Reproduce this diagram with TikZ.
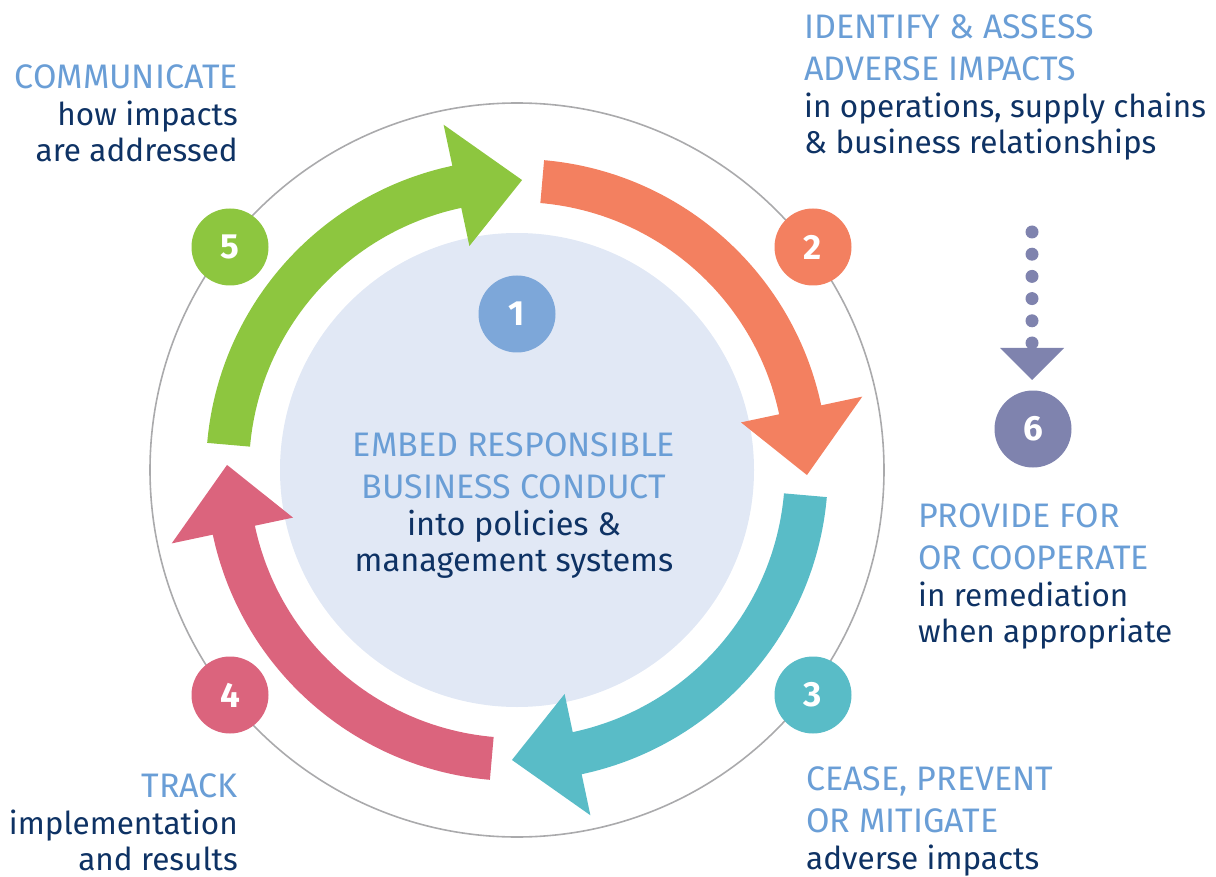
\documentclass[tikz,border=0pt]{standalone}
\usepackage{fontspec}
\setmainfont{Fira Sans}
\newfontfamily\headfont{Fira Sans}
\usetikzlibrary{calc}

\definecolor{headblue}{RGB}{106,158,214}
\definecolor{bodynavy}{RGB}{14,50,100}
\definecolor{corefill}{RGB}{225,232,245}
\definecolor{stepone}{RGB}{125,167,217}
\definecolor{stepgreen}{RGB}{141,198,63}
\definecolor{steporange}{RGB}{243,128,96}
\definecolor{stepteal}{RGB}{89,188,199}
\definecolor{steppink}{RGB}{219,100,125}
\definecolor{stepsix}{RGB}{127,131,174}
\definecolor{ringgrey}{RGB}{170,170,172}

\newcommand{\hd}[1]{{\headfont\fontsize{34}{42}\selectfont\color{headblue}#1}}
% thick curved arrow: colour, tail angle
\newcommand{\cyclearrow}[2]{%
  \fill[#1] ({#2}:311) arc[start angle={#2}, end angle={#2+73}, radius=311]
    -- ({#2+73}:353) -- ({#2+86}:290) -- ({#2+73}:229) -- ({#2+73}:268)
    arc[start angle={#2+73}, end angle={#2}, radius=268] -- cycle;}

\tikzset{
  stepnum/.style={circle, fill=#1, minimum size=77pt, inner sep=0pt, text=white,
    font=\fontsize{35}{35}\selectfont\bfseries},
  labelblock/.style={inner sep=0pt, text=bodynavy, font=\fontsize{31.5}{42}\selectfont},
}

\begin{document}
\begin{tikzpicture}[x=1pt,y=1pt,yscale=-1]
\useasboundingbox (0,0) rectangle (1216,877);

%Ring and core
\draw[ringgrey, line width=1.6pt] (517,470) circle (367);
\fill[corefill] (517,470) circle (237);

%Arrows
\begin{scope}[shift={(517,470)}]
\cyclearrow{stepgreen}{185}
\cyclearrow{steporange}{275}
\cyclearrow{stepteal}{5}
\cyclearrow{steppink}{95}
\end{scope}

%Step circles
\node[stepnum=stepone] (one) at (517,314) {1};
\node[stepnum=steporange] (two) at (813,247) {2};
\node[stepnum=stepteal] (three) at (813,695) {3};
\node[stepnum=steppink] (four) at (230,695) {4};
\node[stepnum=stepgreen] (five) at (230,247) {5};
\node[stepnum=stepsix] (six) at (1033,429) {6};

%Dotted arrow to 6
\foreach \k in {0,...,5}
  \fill[stepsix] (1032,{232+22.2*\k}) circle (6.5);
\fill[stepsix] (1000,348) -- (1064,348) -- (1032,380) -- cycle;

%Texts (anchored at last line)
\node[labelblock, font=\fontsize{32.5}{42}\selectfont, anchor=base, align=center] (embed) at (514,571)
  {\hd{EMBED RESPONSIBLE}\\ \hd{BUSINESS CONDUCT}\\[-5pt] into policies \&\\[-6pt] management systems};
\node[labelblock, anchor=base west, align=left] (identify) at (804,154)
  {\hd{IDENTIFY \& ASSESS}\\ \hd{ADVERSE IMPACTS}\\[-5pt] in operations, supply chains\\[-6pt] \& business relationships};
\node[labelblock, anchor=base west, align=left] (provide) at (918,642)
  {\hd{PROVIDE FOR}\\ \hd{OR COOPERATE}\\[-5pt] in remediation\\[-6pt] when appropriate};
\node[labelblock, anchor=base west, align=left] (cease) at (806,869)
  {\hd{CEASE, PREVENT}\\ \hd{OR MITIGATE}\\[-5pt] adverse impacts};
\node[labelblock, anchor=base east, align=right] (track) at (238,870)
  {\hd{TRACK}\\[-5pt] implementation\\[-6pt] and results};
\node[labelblock, anchor=base east, align=right] (communicate) at (238,162)
  {\hd{COMMUNICATE}\\[-5pt] how impacts\\[-6pt] are addressed};

\end{tikzpicture}
\end{document}
